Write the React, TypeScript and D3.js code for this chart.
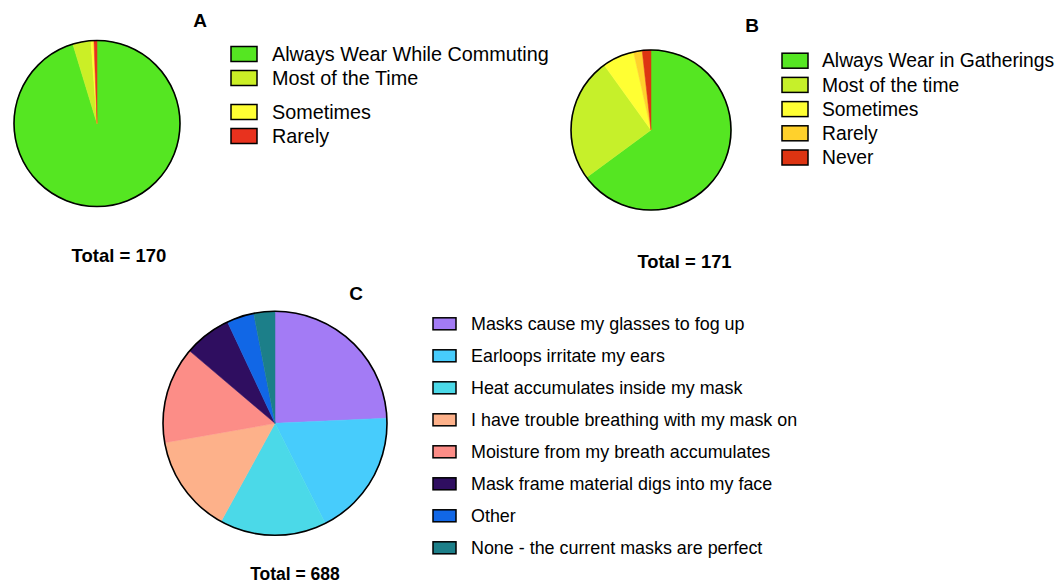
import * as d3 from 'd3';
import React from 'react';

// A: wearing while commuting
const commuteLabels = ['Always Wear While Commuting', 'Most of the Time', 'Sometimes', 'Rarely'];
const commuteValues = [162, 6, 1, 1];
const commuteColors = ['#55E622', '#CBEF26', '#FFFF33', '#E8321E'];

// B: wearing in gatherings
const gatherLabels = ['Always Wear in Gatherings', 'Most of the time', 'Sometimes', 'Rarely', 'Never'];
const gatherValues = [111, 43, 11, 3, 3];
const gatherColors = ['#55E622', '#C6F02A', '#FFFF33', '#FFD12C', '#DD3412'];

// C: mask complaints
const issueLabels = [
  'Masks cause my glasses to fog up',
  'Earloops irritate my ears',
  'Heat accumulates inside my mask',
  'I have trouble breathing with my mask on',
  'Moisture from my breath accumulates',
  'Mask frame material digs into my face',
  'Other',
  'None - the current masks are perfect',
];
const issueValues = [167, 126, 106, 98, 96, 47, 27, 21];
const issueColors = ['#A37BF5', '#47CCFC', '#4BD9E8', '#FDB18A', '#FC8D87', '#2F0E60', '#1167E6', '#1C7F89'];

const FONT = '"Liberation Sans", Arial, Helvetica, sans-serif';

function Pie({ cx, cy, r, values, colors }) {
  const arcs = d3.pie().sort(null).value((d) => d)(values);
  const arc = d3.arc().innerRadius(0).outerRadius(r);
  return (
    <g transform={`translate(${cx},${cy})`}>
      {arcs.map((a, i) => (
        <path key={i} d={arc(a)} fill={colors[i]} stroke={colors[i]} strokeWidth={0.5} />
      ))}
      <circle r={r} fill="none" stroke="#000" strokeWidth={1.6} />
    </g>
  );
}

function Legend({ x, rowY, labels, colors, fontSize, boxW, boxH, gap }) {
  return (
    <g>
      {labels.map((label, i) => (
        <g key={label} transform={`translate(${x},${rowY(i)})`}>
          <rect x={0} y={-boxH / 2} width={boxW} height={boxH} fill={colors[i]} stroke="#000" strokeWidth={1.5} />
          <text x={boxW + gap} y={0} dy="0.35em" fontSize={fontSize} fontFamily={FONT} fill="#000">
            {label}
          </text>
        </g>
      ))}
    </g>
  );
}

export default function App() {
  const width = 1059;
  const height = 583;

  const rowsA = [54, 78, 112, 136];
  const rowsB = d3.scaleLinear().domain([0, 1]).range([60.7, 84.9]);
  const rowsC = d3.scaleLinear().domain([0, 1]).range([323.8, 355.8]);

  const bold = { fontFamily: FONT, fontWeight: 'bold', fill: '#000' };

  return (
    <svg width={width} height={height} style={{ position: 'absolute', left: 0, top: 0, background: '#fff' }}>
      <text x={200} y={20} dy="0.35em" textAnchor="middle" fontSize={19} {...bold}>A</text>
      <text x={752} y={25} dy="0.35em" textAnchor="middle" fontSize={19} {...bold}>B</text>
      <text x={356} y={293} dy="0.35em" textAnchor="middle" fontSize={19} {...bold}>C</text>

      <Pie cx={97} cy={123.5} r={83} values={commuteValues} colors={commuteColors} />
      <Legend x={231} rowY={(i) => rowsA[i]} labels={commuteLabels} colors={commuteColors}
        fontSize={19.8} boxW={26} boxH={15} gap={15} />
      <text x={119} y={256} dy="0.35em" textAnchor="middle" fontSize={18.5} {...bold}>Total = 170</text>

      <Pie cx={651} cy={130} r={80} values={gatherValues} colors={gatherColors} />
      <Legend x={782} rowY={rowsB} labels={gatherLabels} colors={gatherColors}
        fontSize={19.3} boxW={26} boxH={15} gap={14} />
      <text x={684.5} y={261.5} dy="0.35em" textAnchor="middle" fontSize={18.4} {...bold}>Total = 171</text>

      <Pie cx={275} cy={423.3} r={112} values={issueValues} colors={issueColors} />
      <Legend x={433} rowY={rowsC} labels={issueLabels} colors={issueColors}
        fontSize={17.9} boxW={23} boxH={12} gap={15} />
      <text x={295} y={574} dy="0.35em" textAnchor="middle" fontSize={17.5} {...bold}>Total = 688</text>
    </svg>
  );
}
